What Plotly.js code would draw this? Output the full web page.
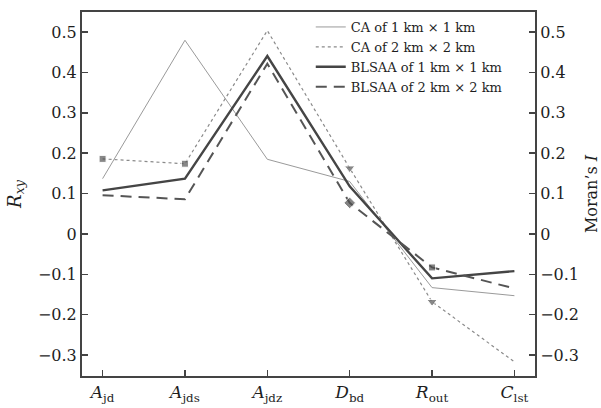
<!DOCTYPE html>
<html>
<head>
<meta charset="utf-8">
<script src="https://cdn.plot.ly/plotly-3.0.1.min.js"></script>
<style>html,body{margin:0;padding:0;background:#fff;}#chart{width:601px;height:408px;}</style>
</head>
<body>
<div id="chart"></div>
<script>
// ---- data ----
var categories = ['<i>A</i><sub>jd</sub>', '<i>A</i><sub>jds</sub>', '<i>A</i><sub>jdz</sub>', '<i>D</i><sub>bd</sub>', '<i>R</i><sub>out</sub>', '<i>C</i><sub>lst</sub>'];
var seriesNames = ['CA of 1 km \u00d7 1 km', 'CA of 2 km \u00d7 2 km', 'BLSAA of 1 km \u00d7 1 km', 'BLSAA of 2 km \u00d7 2 km'];
var ca1km = [0.137, 0.48, 0.185, 0.13, -0.133, -0.153];
var ca2km = [0.186, 0.174, 0.504, 0.163, -0.168, -0.317];
var blsaa1km = [0.108, 0.137, 0.441, 0.118, -0.11, -0.092];
var blsaa2km = [0.096, 0.086, 0.422, 0.077, -0.083, -0.135];
var yTickVals = [-0.3, -0.2, -0.1, 0, 0.1, 0.2, 0.3, 0.4, 0.5];

var serif = 'DejaVu Serif, Liberation Serif, serif';
var axisCol = '#444';
var txtCol = '#1e1e1e';

var traces = [
  {x: categories, y: ca1km, name: seriesNames[0], type: 'scatter', mode: 'lines',
   line: {color: '#9a9a9a', width: 1}},
  {x: categories, y: ca2km, name: seriesNames[1], type: 'scatter', mode: 'lines',
   line: {color: '#8a8a8a', width: 1.2, dash: 'dot'}},
  {x: categories, y: blsaa1km, name: seriesNames[2], type: 'scatter', mode: 'lines',
   line: {color: '#454545', width: 2.4}},
  {x: categories, y: blsaa2km, name: seriesNames[3], type: 'scatter', mode: 'lines',
   line: {color: '#555555', width: 2, dash: '11px,7px'}},
  // point markers (not in legend)
  {x: categories, y: ca2km, type: 'scatter', mode: 'markers', showlegend: false, hoverinfo: 'skip',
   marker: {color: '#555555', symbol: ['square', 'square', 'square', 'triangle-down', 'triangle-down', 'square'],
            size: [7, 7, 0, 9, 9, 0]}},
  {x: categories, y: blsaa2km, type: 'scatter', mode: 'markers', showlegend: false, hoverinfo: 'skip',
   marker: {color: '#505050', symbol: ['square', 'square', 'square', 'diamond', 'square', 'square'],
            size: [0, 0, 0, 9, 7, 0]}},
  {x: categories, y: [null, null, null, null, null, null], yaxis: 'y2', type: 'scatter', mode: 'lines',
   showlegend: false, hoverinfo: 'skip'}
];

var yRange = [-0.352, 0.55];
var layout = {
  width: 601, height: 408,
  margin: {l: 82, r: 66, t: 12, b: 32, pad: 0},
  paper_bgcolor: '#fff', plot_bgcolor: '#fff',
  showlegend: true,
  legend: {x: 0.505, y: 1.0, xanchor: 'left', yanchor: 'top', bgcolor: 'rgba(0,0,0,0)',
           font: {family: serif, size: 13, color: txtCol}, tracegroupgap: 0},
  xaxis: {type: 'category', range: [-0.25, 5.25], showgrid: false, zeroline: false,
          showline: true, linecolor: axisCol, linewidth: 2, mirror: true,
          ticks: 'inside', ticklen: 6, tickwidth: 1.5, tickcolor: axisCol,
          tickfont: {family: serif, size: 17, color: txtCol}},
  yaxis: {range: yRange, tickvals: yTickVals, showgrid: false, zeroline: false,
          showline: true, linecolor: axisCol, linewidth: 2,
          ticks: 'inside', ticklen: 6, tickwidth: 1.5, tickcolor: axisCol,
          tickfont: {family: serif, size: 16, color: txtCol},
          title: {text: '<i>R</i><sub><i>xy</i></sub>', font: {family: serif, size: 18, color: txtCol}, standoff: 12}},
  yaxis2: {overlaying: 'y', side: 'right', range: yRange, tickvals: yTickVals, showgrid: false, zeroline: false,
           showline: true, linecolor: axisCol, linewidth: 2,
           ticks: 'inside', ticklen: 6, tickwidth: 1.5, tickcolor: axisCol,
           tickfont: {family: serif, size: 16, color: txtCol},
           title: {text: 'Moran\u2019s <i>I</i>', font: {family: serif, size: 16, color: txtCol}, standoff: 8}}
};

Plotly.newPlot('chart', traces, layout, {displayModeBar: false, staticPlot: true});
</script>
</body>
</html>
